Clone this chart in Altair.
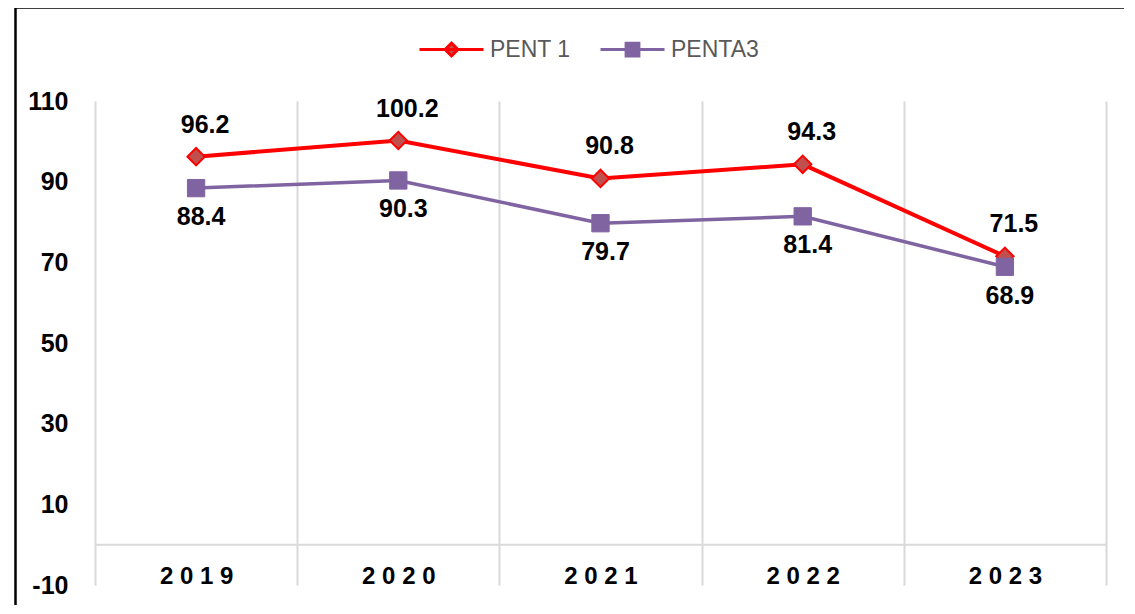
import altair as alt
import pandas as pd

# ---- data ----
years = ["2019", "2020", "2021", "2022", "2023"]
pent1 = [96.2, 100.2, 90.8, 94.3, 71.5]
penta3 = [88.4, 90.3, 79.7, 81.4, 68.9]
series_names = ["PENT 1", "PENTA3"]
y_ticks = [-10, 10, 30, 50, 70, 90, 110]

rows = []
for name, vals in zip(series_names, [pent1, penta3]):
    for yr, v in zip(years, vals):
        rows.append({"year": yr, "series": name, "value": v})
df = pd.DataFrame(rows)

RED = "#ff0000"
RED_FILL = "#c0504d"
PURPLE = "#8064a2"
GRID = "#d9d9d9"
FONT = "Liberation Sans"

x_axis = alt.Axis(
    title=None, orient="bottom", tickBand="extent", grid=True, gridColor=GRID,
    gridWidth=2, domain=False, ticks=False, tickSize=0, labelAngle=0,
    labelFont=FONT, labelFontSize=24, labelFontWeight="bold", labelColor="black",
    labelBaseline="middle", labelPadding=-9,
    labelExpr="datum.label ? join(split(datum.label, ''), ' ') : ''",
)
y_axis = alt.Axis(
    title=None, values=y_ticks, grid=False, domain=False, ticks=False,
    labelPadding=27, labelFont=FONT, labelFontSize=25, labelFontWeight="bold",
    labelColor="black", labelFlush=False, labelExpr="'' + datum.value",
)
x_scale = alt.Scale(domain=years, paddingInner=0, paddingOuter=0)
y_scale = alt.Scale(domain=[-10, 110], nice=False, zero=False)

x_enc = alt.X("year:N", sort=years, scale=x_scale, axis=x_axis)
y_enc = alt.Y("value:Q", scale=y_scale, axis=y_axis)

base = alt.Chart(df)
s1 = base.transform_filter(alt.datum.series == "PENT 1")
s2 = base.transform_filter(alt.datum.series == "PENTA3")

frame = alt.Chart(pd.DataFrame({"f": [0]})).mark_rect(
    stroke="black", strokeWidth=2.5, fillOpacity=0
).encode(
    x=alt.value(-79.5), x2=alt.value(1300), y=alt.value(-93.5), y2=alt.value(800)
)

zero = alt.Chart(pd.DataFrame({"value": [0]})).mark_rule(
    color=GRID, strokeWidth=2
).encode(y=y_enc)

line1 = s1.mark_line(color=RED, strokeWidth=4).encode(x=x_enc, y=y_enc)
line2 = s2.mark_line(color=PURPLE, strokeWidth=3.5).encode(x=x_enc, y=y_enc)

pts1 = s1.mark_point(
    shape="diamond", filled=True, fill=RED_FILL, stroke=RED, strokeWidth=2, size=300, opacity=1
).encode(x=x_enc, y=y_enc)

pts2 = s2.mark_point(
    shape="square", filled=True, fill=PURPLE, stroke=PURPLE, strokeWidth=1, size=300, opacity=1
).encode(x=x_enc, y=y_enc)

path_diamond = "M-4,0L4,0M0,-0.8L0.8,0L0,0.8L-0.8,0Z"
path_square = "M-4,0L4,0M-0.8,-0.8L0.8,-0.8L0.8,0.8L-0.8,0.8Z"

leg = alt.Legend(
    title=None, orient="none", legendX=345, legendY=-63, direction="horizontal",
    symbolSize=256, symbolStrokeWidth=3, symbolOpacity=1, labelOffset=27, columnPadding=23,
    labelFont=FONT, labelFontSize=23, labelColor="#595959", padding=0,
)

# invisible layer whose only job is to carry the legend
legend_layer = base.mark_point(
    filled=True, opacity=0, strokeWidth=3
).encode(
    x=x_enc, y=y_enc,
    shape=alt.Shape("series:N", scale=alt.Scale(domain=series_names, range=[path_diamond, path_square]), legend=leg),
    fill=alt.Fill("series:N", scale=alt.Scale(domain=series_names, range=[RED_FILL, PURPLE]), legend=leg),
    stroke=alt.Stroke("series:N", scale=alt.Scale(domain=series_names, range=[RED, PURPLE]), legend=leg),
)

lab1 = s1.mark_text(
    font=FONT, fontSize=25, fontWeight="bold", color="black", dx=9, dy=-32
).encode(x=x_enc, y=y_enc, text=alt.Text("value:Q", format=".1f"))

lab2 = s2.mark_text(
    font=FONT, fontSize=25, fontWeight="bold", color="black", dx=5, dy=29
).encode(x=x_enc, y=y_enc, text=alt.Text("value:Q", format=".1f"))

chart = alt.layer(
    frame, zero, line1, line2, legend_layer, pts1, pts2, lab1, lab2
).properties(
    width=1011, height=484,
    autosize=alt.AutoSizeParams(type="none"),
    padding={"left": 87, "top": 93, "right": 18, "bottom": 20},
    background="white",
).configure_view(stroke=None)

chart.save("out.html", embed_options={"renderer": "svg", "actions": False})
